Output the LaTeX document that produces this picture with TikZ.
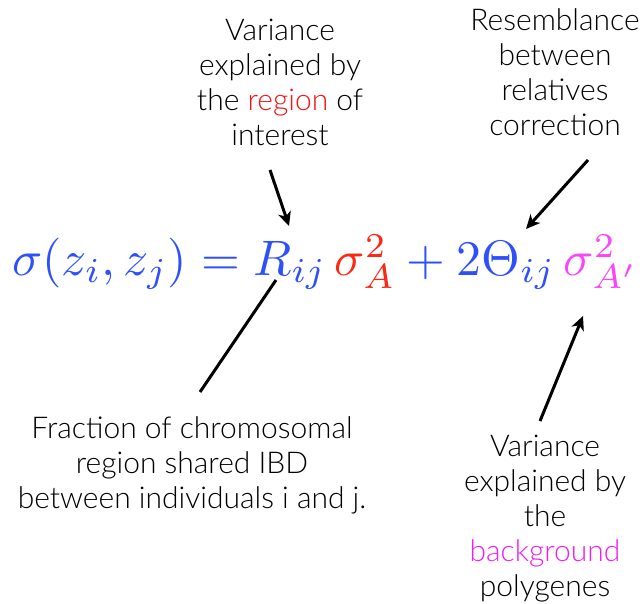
\documentclass[tikz,border=0pt]{standalone}
\usepackage{fontspec}
\setmainfont{Lato}[UprightFont={* Light}]
\usepackage{amsmath}
\usetikzlibrary{arrows.meta}
\definecolor{eqblue}{RGB}{45,80,250}
\definecolor{eqred}{RGB}{250,40,20}
\definecolor{eqmag}{RGB}{250,70,250}
\definecolor{regred}{RGB}{240,20,20}
\definecolor{bgmag}{RGB}{240,30,240}
\tikzset{
  lbl/.style={align=center, font=\fontsize{30}{35}\selectfont, inner sep=0pt},
  pointer/.style={line width=3pt, -{Stealth[length=14pt,width=13pt,inset=4pt]}},
  plainline/.style={line width=3pt}
}
\begin{document}
\begin{tikzpicture}[x=1pt,y=-1pt]
\useasboundingbox (0,0) rectangle (644,603);
\node[lbl, anchor=north] (t1) at (280,18.5) {Variance\\explained by\\the \textcolor{regred}{region} of\\interest};
\node[lbl, anchor=north] (t2) at (555,8) {Resemblance\\between\\relatives\\correction};
\node[lbl, anchor=north] (t3) at (192,416) {Fraction of chromosomal\\region shared IBD\\between individuals i and j.};
\node[lbl, anchor=north] (t4) at (545,435) {Variance\\explained by\\the\\\textcolor{bgmag}{background}\\polygenes};
\node[inner sep=0pt, anchor=west] (eq) at (12,262) {\resizebox{626pt}{!}{$\color{eqblue}\sigma(z_i,z_j)=R_{ij}\,{\color{eqred}\sigma^2_A}+2\Theta_{ij}\,{\color{eqmag}\sigma^2_{A'}}$}};
\coordinate (a1s) at (270,170); \coordinate (a1e) at (289,226);
\coordinate (a2s) at (588,160); \coordinate (a2e) at (526,229);
\coordinate (a3s) at (200,392); \coordinate (a3e) at (276,280);
\coordinate (a4s) at (540,421); \coordinate (a4e) at (583,316);
\draw[pointer] (a1s) -- (a1e);
\draw[pointer] (a2s) -- (a2e);
\draw[plainline] (a3s) -- (a3e);
\draw[pointer] (a4s) -- (a4e);
\end{tikzpicture}
\end{document}
